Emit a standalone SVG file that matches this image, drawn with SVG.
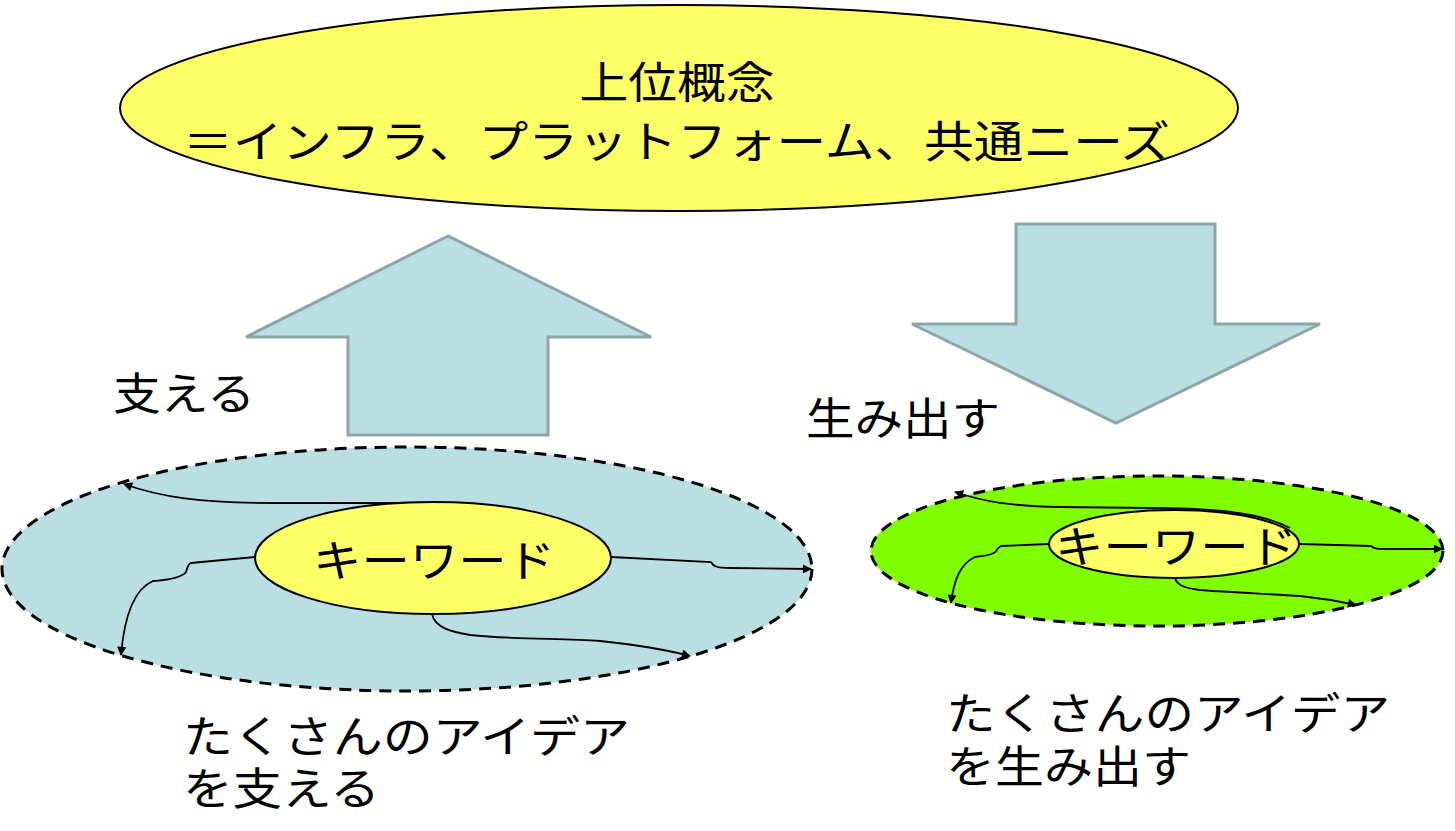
<svg xmlns="http://www.w3.org/2000/svg" width="1455" height="831" viewBox="0 0 1455 831">
<defs>
<style>
.t{font-family:"Noto Sans CJK JP","Noto Sans CJK SC",sans-serif;font-size:44px;fill:#000}
.big{fill:#B9DFE3;stroke:#8BA5A8;stroke-width:3}
.dash{stroke:#000;stroke-width:3;stroke-dasharray:12 8}
.kw{fill:#FFFF66;stroke:#000;stroke-width:2}
.c{fill:none;stroke:#000;stroke-width:1.8;marker-end:url(#ah)}
</style>
<marker id="ah" viewBox="0 0 10 10" refX="9" refY="5" markerWidth="10" markerHeight="9" markerUnits="userSpaceOnUse" orient="auto"><path d="M0,0 L10,5 L0,10 z" fill="#000"/></marker>
</defs>
<rect width="1455" height="831" fill="#fff"/>
<g id="top">
<ellipse cx="679" cy="108" rx="559" ry="103" fill="#FFFF66" stroke="#000" stroke-width="2"/>
<text class="t" x="677" y="99" text-anchor="middle" textLength="195" lengthAdjust="spacingAndGlyphs">上位概念</text>
<text class="t" x="183" y="158" textLength="987" lengthAdjust="spacingAndGlyphs">＝インフラ、プラットフォーム、共通ニーズ</text>
</g>
<g id="up-arrow">
<polygon class="big" points="448,236 246,337 348,337 348,435 548,435 548,337 651,337"/>
</g>
<g id="down-arrow">
<polygon class="big" points="1016,224 1215,224 1215,324 1320,324 1116,423 912,324 1016,324"/>
</g>
<text id="lbl-support" class="t" x="113" y="410" textLength="142" lengthAdjust="spacingAndGlyphs">支える</text>
<text id="lbl-create" class="t" x="806" y="435" textLength="194" lengthAdjust="spacingAndGlyphs">生み出す</text>
<g id="left-cloud">
<ellipse class="dash" cx="407" cy="569" rx="405" ry="122" fill="#B9DFE3"/>
</g>
<g id="right-cloud">
<ellipse class="dash" cx="1157" cy="551" rx="286" ry="75" fill="#80FF00"/>
</g>
<g id="connectors">
<path class="c" d="M430,503 L273,503 C200,503 160,497 124,484"/>
<path class="c" d="M255,557 L191,563 C186,565 188,572 184,574 C178,578 168,580 153,581 C132,590 124,620 121,655"/>
<path class="c" d="M611,557 L711,562 C713,566 716,568 730,568 L811,569"/>
<path class="c" d="M432,614 C435,628 452,632 470,635 C520,640 560,638 600,641 C630,644 660,648 690,656"/>
<path class="c" d="M1290,528 C1260,512 1210,508 1150,508 L1060,507 C1010,506 985,502 955,492"/>
<path class="c" d="M1049,544 L1001,546 C996,548 998,551 994,553 C988,556 982,556 975,557 C960,564 954,580 951,603"/>
<path class="c" d="M1300,544 L1371,546 C1374,549 1378,549 1390,549 L1442,549"/>
<path class="c" d="M1175,578 C1177,586 1186,588 1200,590 C1240,593 1270,594 1300,596 C1320,598 1338,601 1356,605"/>
</g>
<g id="left-keyword">
<ellipse class="kw" cx="433" cy="558" rx="178" ry="56"/>
<text class="t" x="434" y="577" text-anchor="middle" textLength="242" lengthAdjust="spacingAndGlyphs">キーワード</text>
</g>
<g id="right-keyword">
<ellipse class="kw" cx="1174" cy="544" rx="125" ry="34"/>
<text class="t" x="1176" y="563" text-anchor="middle" textLength="242" lengthAdjust="spacingAndGlyphs">キーワード</text>
</g>
<g id="left-caption">
<text class="t" x="183" y="753" textLength="447" lengthAdjust="spacingAndGlyphs">たくさんのアイデア</text>
<text class="t" x="183" y="805" textLength="197" lengthAdjust="spacingAndGlyphs">を支える</text>
</g>
<g id="right-caption">
<text class="t" x="946" y="730" textLength="444" lengthAdjust="spacingAndGlyphs">たくさんのアイデア</text>
<text class="t" x="946" y="783" textLength="245" lengthAdjust="spacingAndGlyphs">を生み出す</text>
</g>
</svg>
